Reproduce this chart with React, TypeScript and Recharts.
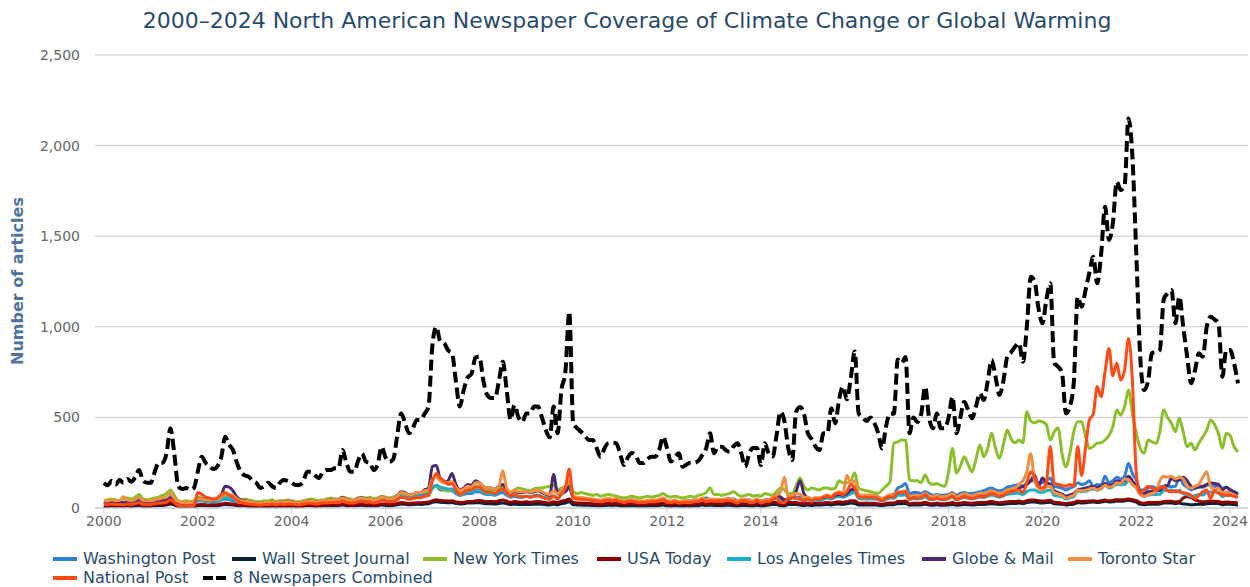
import React from "react";
import { LineChart, Line, XAxis, YAxis, CartesianGrid } from "recharts";

// Monthly values, Jan 2000 – Mar 2024 (291 months)
const START_YEAR = 2000;

const combined = [
  138,125,150,130,155,140,160,145,170,210,150,140,
  140,200,250,250,300,440,300,120,105,110,100,110,
  200,283,250,230,215,230,280,393,350,320,250,200,
  180,173,150,138,110,120,140,120,110,140,155,150,
  140,127,127,150,200,200,180,165,200,210,210,220,
  220,320,250,200,200,260,300,256,250,210,240,338,
  280,255,270,400,522,470,412,440,486,486,520,559,
  900,1000,920,910,870,855,700,560,650,720,740,830,
  835,706,624,607,607,700,807,650,486,568,500,476,
  522,522,560,560,500,430,390,560,413,651,750,1083,
  468,440,421,400,375,375,330,283,330,358,360,358,
  300,237,280,303,290,248,248,270,283,283,320,393,
  330,256,280,302,228,240,250,250,260,292,330,412,
  302,338,338,320,310,340,357,302,228,300,331,331,
  237,357,300,284,400,531,480,330,265,530,557,522,
  413,380,338,320,412,412,551,467,600,670,600,720,
  863,522,500,480,500,470,413,329,450,522,520,820,
  800,833,413,500,475,520,670,500,440,522,440,440,
  500,614,413,500,587,540,495,560,633,596,700,817,
  725,624,700,835,860,890,910,807,1000,1276,1250,1100,
  1019,1150,1240,800,780,745,522,560,690,1165,1111,1200,
  1300,1386,1240,1400,1663,1479,1571,1800,1755,1780,2150,1939,
  1400,835,651,700,855,860,872,1150,1185,1203,1019,1166,
  1000,835,688,760,854,835,1000,1055,1040,1020,725,872,
  872,798,688,
];

const nyt = [
  40,45,50,45,40,50,55,50,60,75,50,45,
  50,55,60,70,80,100,70,40,35,40,35,40,
  60,55,50,50,45,50,55,70,60,55,50,45,
  50,45,40,35,35,40,40,45,35,40,40,45,
  40,35,35,40,45,50,45,40,45,50,55,50,
  50,60,55,50,45,55,60,55,60,50,55,65,
  60,55,60,70,80,75,70,75,80,85,90,95,
  110,120,110,100,95,100,90,80,90,100,110,120,
  120,110,100,95,100,110,115,100,90,100,110,105,
  100,95,105,110,110,115,120,125,100,110,120,130,
  90,80,85,80,75,70,75,65,70,75,70,65,
  60,55,60,65,60,55,60,65,60,65,70,80,
  65,60,65,60,55,60,65,60,70,75,85,110,
  75,75,70,75,80,90,75,65,70,75,65,70,
  65,80,75,70,90,110,100,80,80,120,165,120,
  100,110,105,100,110,110,105,110,150,140,140,150,
  193,110,100,95,90,85,80,100,120,145,358,365,
  375,375,155,150,150,140,182,140,130,135,125,120,
  200,329,193,230,283,240,200,270,348,283,330,412,
  330,274,350,430,380,360,375,360,531,480,470,480,
  476,460,375,420,441,300,228,302,420,476,476,400,
  329,340,358,360,375,400,449,541,513,560,651,520,
  412,330,302,375,365,357,420,541,500,467,421,495,
  420,338,358,320,358,393,430,486,460,412,329,412,
  400,338,310,
];

const wapo = [
  35,30,35,40,35,30,35,40,35,45,35,30,
  35,40,45,40,45,60,50,30,30,35,30,35,
  40,45,40,35,35,40,45,50,45,40,35,35,
  35,30,30,30,25,30,30,35,30,35,30,35,
  35,30,30,35,40,40,35,35,40,40,45,45,
  45,55,45,40,40,50,50,45,45,40,45,55,
  50,45,50,60,75,70,60,65,70,70,75,80,
  110,120,100,100,95,95,80,70,75,80,80,90,
  90,80,75,75,70,80,85,70,60,65,60,60,
  65,60,65,70,60,55,55,65,55,75,90,110,
  60,55,55,50,50,45,45,40,45,50,45,50,
  40,35,40,45,40,35,35,40,40,40,45,50,
  40,35,40,35,35,40,40,45,40,50,55,45,
  45,45,45,50,50,50,40,35,45,45,40,40,
  40,45,45,55,65,60,45,40,60,60,60,55,
  50,45,50,50,55,60,55,65,70,70,75,90,
  100,65,60,60,60,60,55,50,60,70,75,110,
  120,135,80,85,85,80,90,80,70,75,70,70,
  75,85,70,80,85,80,80,85,90,95,105,110,
  100,95,100,115,120,125,130,120,140,150,150,140,
  140,150,165,120,115,110,100,110,118,140,130,135,
  150,118,130,125,175,140,150,170,160,175,247,190,
  155,100,100,110,118,110,115,120,120,118,120,173,
  130,115,100,110,120,115,125,130,120,125,110,115,
  100,90,81,
];

const wsj = [
  10,9,12,10,11,10,12,10,12,14,10,10,
  10,13,14,14,16,22,16,9,8,8,8,8,
  13,14,13,12,13,13,16,19,18,17,14,12,
  12,10,9,8,8,9,8,10,8,10,9,10,
  10,9,8,10,12,12,10,11,12,12,13,13,
  13,16,13,12,12,14,15,13,13,12,13,16,
  14,13,14,18,22,20,18,19,21,20,22,23,
  32,35,32,30,29,30,25,22,24,27,27,29,
  29,25,23,23,22,25,28,23,19,21,19,19,
  20,19,21,21,20,18,17,21,17,24,28,35,
  18,17,16,15,15,14,13,12,14,15,14,15,
  13,11,13,13,12,11,11,12,13,13,14,16,
  13,11,13,11,11,12,11,13,13,16,14,15,
  14,14,13,15,15,13,11,14,14,12,11,15,
  11,13,16,19,19,12,11,19,19,19,16,14,
  16,14,16,16,18,19,17,21,22,20,23,27,
  25,17,17,17,17,17,15,13,16,18,18,24,
  24,25,15,17,17,17,21,16,15,18,15,15,
  17,19,15,17,19,18,17,18,20,19,22,24,
  22,19,21,24,25,25,27,24,30,33,33,29,
  28,30,32,23,22,20,17,19,21,29,28,29,
  32,33,30,33,37,33,35,38,37,38,43,39,
  32,20,18,20,21,21,22,27,28,28,24,27,
  22,21,18,19,21,20,24,25,25,25,18,21,
  21,19,17,
];

const usaToday = [
  15,12,15,14,15,13,16,14,16,20,14,14,
  14,18,20,20,22,30,22,12,10,11,10,11,
  18,20,18,17,18,18,22,26,24,22,18,15,
  15,13,12,10,10,12,11,12,10,12,12,12,
  12,11,10,12,15,15,13,14,16,16,17,18,
  18,22,18,16,16,20,21,18,19,16,18,22,
  20,19,20,25,30,28,25,27,29,29,31,33,
  40,45,42,40,38,40,34,30,32,36,36,40,
  42,38,35,36,35,40,44,38,32,36,33,32,
  34,32,35,36,33,30,28,35,30,38,42,50,
  30,28,27,26,25,24,22,20,24,25,24,25,
  22,20,22,23,21,20,20,21,22,22,24,26,
  22,20,22,19,20,21,20,22,23,27,23,25,
  24,24,23,25,26,23,19,24,24,21,20,25,
  20,22,25,30,30,20,20,30,30,30,26,24,
  26,24,26,26,28,30,27,32,34,32,35,40,
  40,27,26,27,26,26,24,20,25,28,28,36,
  36,38,24,26,26,26,32,25,24,27,24,24,
  26,30,24,27,30,28,26,29,31,30,33,36,
  32,29,31,35,36,36,38,34,40,44,44,40,
  38,40,42,32,30,28,24,27,30,38,36,37,
  38,40,37,40,44,40,42,46,45,46,50,46,
  40,30,26,30,30,30,31,36,37,37,33,36,
  55,62,58,45,38,34,36,38,37,36,30,33,
  32,30,28,
];

const laTimes = [
  30,28,32,30,32,28,33,30,34,40,30,30,
  30,38,45,44,50,70,50,25,22,24,22,24,
  40,38,36,35,36,36,45,55,50,48,36,30,
  32,28,25,22,20,24,23,26,22,27,25,26,
  26,24,22,26,32,31,28,30,34,33,35,36,
  38,45,36,32,33,40,42,37,38,32,36,46,
  40,37,38,50,65,60,52,55,62,60,66,70,
  110,125,115,110,105,105,85,70,78,88,88,100,
  100,86,77,76,74,88,98,78,62,70,62,60,
  65,62,68,70,63,55,50,68,53,78,95,120,
  58,54,52,50,47,45,41,37,45,46,43,46,
  38,32,39,40,36,33,34,36,38,39,42,48,
  35,33,38,30,32,33,32,37,38,50,38,42,
  40,42,40,43,44,38,30,40,40,33,31,42,
  30,36,38,48,55,40,33,52,55,55,48,42,
  44,40,42,42,50,55,50,60,65,60,68,80,
  85,52,50,50,50,50,45,38,48,55,54,70,
  70,72,45,52,50,52,62,48,46,52,46,46,
  52,60,45,52,58,54,50,55,60,58,65,72,
  66,60,66,76,78,80,82,74,90,100,100,88,
  86,95,100,70,66,62,50,56,62,95,90,92,
  100,105,98,106,125,110,118,130,128,130,150,135,
  115,75,62,72,74,75,76,95,98,100,88,98,
  78,74,62,68,74,72,85,88,87,86,62,70,
  70,65,60,
];

const globeMail = [
  30,28,32,30,30,28,32,30,34,40,30,30,
  30,35,40,40,45,55,45,25,22,24,22,24,
  50,48,45,44,45,45,70,120,115,95,60,45,
  40,35,30,28,26,30,30,32,28,34,32,34,
  34,30,28,32,40,38,35,36,42,40,44,45,
  46,60,46,42,42,52,56,48,50,42,48,60,
  52,48,50,65,90,85,70,75,85,85,100,110,
  230,235,160,140,150,190,130,100,110,130,125,150,
  140,120,110,110,105,120,130,100,80,95,85,85,
  90,85,90,95,85,75,70,185,80,100,90,120,
  60,55,52,50,48,46,42,38,46,47,44,47,
  40,35,40,42,38,35,35,38,40,40,44,50,
  38,35,40,33,35,36,35,40,41,52,42,45,
  43,45,43,46,47,42,35,44,44,38,36,45,
  35,40,42,55,70,60,45,50,60,90,150,80,
  55,48,52,50,58,65,58,70,75,70,80,100,
  105,70,65,65,70,68,60,50,60,70,70,85,
  85,90,60,68,65,66,78,62,60,66,60,60,
  65,72,58,64,70,66,62,68,74,72,80,88,
  82,75,80,92,95,98,110,118,130,150,182,120,
  165,140,130,95,85,78,65,72,80,100,105,110,
  115,120,112,120,135,125,130,150,145,150,175,150,
  120,90,80,90,92,95,96,120,125,165,150,155,
  170,150,120,110,115,120,130,140,135,130,100,115,
  100,90,75,
];

const torontoStar = [
  40,38,45,40,42,62,45,40,48,60,40,40,
  40,45,50,55,60,80,55,35,30,30,30,32,
  50,48,45,42,45,45,60,80,75,70,50,40,
  38,34,30,28,26,30,30,32,28,34,32,34,
  34,30,28,32,40,38,35,36,42,40,44,45,
  46,55,46,42,42,50,55,48,50,42,48,60,
  55,50,52,65,85,80,70,75,85,85,95,100,
  160,170,150,140,140,145,115,95,105,120,115,140,
  140,120,110,110,105,120,205,110,85,100,90,90,
  92,88,95,98,90,80,75,95,78,100,120,150,
  65,60,58,55,52,50,46,42,50,52,48,52,
  44,38,44,46,42,38,38,42,44,44,48,55,
  40,38,44,36,38,40,38,44,45,55,45,50,
  48,48,46,50,52,46,38,48,48,42,40,50,
  38,44,45,60,70,90,170,60,70,80,75,60,
  60,50,58,56,64,72,64,80,90,85,180,140,
  150,75,70,72,70,70,62,52,62,72,72,90,
  90,95,62,70,68,68,82,65,62,70,62,62,
  68,80,60,70,78,72,68,75,82,80,88,95,
  88,80,85,100,105,110,130,150,200,300,150,110,
  100,115,120,85,78,70,55,62,70,100,95,98,
  105,110,100,110,125,115,120,140,135,160,155,130,
  110,75,65,72,80,90,150,175,170,175,160,170,
  160,120,110,120,130,170,200,120,100,110,80,90,
  80,70,65,
];

const nationalPost = [
  20,18,22,20,20,18,22,20,24,30,20,20,
  20,24,28,28,32,45,30,15,12,14,12,14,
  85,75,60,55,50,55,75,85,70,60,40,30,
  25,22,20,18,16,20,20,22,18,22,20,22,
  22,20,18,22,26,26,22,24,28,27,30,30,
  30,38,30,27,28,34,36,32,33,28,32,40,
  36,34,35,45,60,56,48,52,58,56,65,68,
  150,190,165,150,130,135,100,75,85,100,100,115,
  115,95,85,85,82,95,105,85,65,75,65,62,
  65,60,66,68,60,52,48,66,50,80,110,215,
  55,50,48,46,44,42,38,34,42,43,40,43,
  35,30,36,37,33,30,31,33,35,35,39,45,
  32,30,35,28,30,31,30,35,36,45,35,40,
  38,40,38,42,43,36,28,40,40,32,30,42,
  28,35,36,48,55,32,30,55,55,55,48,40,
  50,40,50,48,58,66,56,78,82,74,90,130,
  110,60,58,60,58,58,50,40,55,62,60,85,
  85,88,48,58,55,56,75,52,48,56,48,48,
  55,65,45,55,62,58,52,58,65,62,70,80,
  72,65,70,85,90,95,100,85,140,200,170,120,
  110,140,340,136,130,125,120,130,120,340,180,330,
  486,520,670,614,750,880,730,800,706,760,936,700,
  190,81,100,118,110,100,110,118,95,90,95,88,
  85,80,70,53,70,90,100,53,95,80,75,70,
  70,65,60,
];

const xTicks = [2000, 2002, 2004, 2006, 2008, 2010, 2012, 2014, 2016, 2018, 2020, 2022, 2024];
const yTicks = [0, 500, 1000, 1500, 2000, 2500];

const series = [
  { key: "wapo", name: "Washington Post", color: "#2f7ed8", values: wapo },
  { key: "wsj", name: "Wall Street Journal", color: "#0d233a", values: wsj },
  { key: "nyt", name: "New York Times", color: "#8bbf2b", values: nyt },
  { key: "usa", name: "USA Today", color: "#910000", values: usaToday },
  { key: "lat", name: "Los Angeles Times", color: "#1aadce", values: laTimes },
  { key: "gm", name: "Globe & Mail", color: "#492970", values: globeMail },
  { key: "ts", name: "Toronto Star", color: "#f28f43", values: torontoStar },
  { key: "np", name: "National Post", color: "#ff4a14", values: nationalPost },
];

const data = combined.map((v, i) => {
  const row: Record<string, number> = { x: START_YEAR + i / 12, combined: v };
  series.forEach((s) => {
    row[s.key] = s.values[i];
  });
  return row;
});

const FONT = "'Lucida Grande', 'DejaVu Sans', sans-serif";

const legendRow1 = [
  { name: "Washington Post", color: "#2f7ed8", sx: 53, tx: 83 },
  { name: "Wall Street Journal", color: "#0d233a", sx: 232, tx: 262 },
  { name: "New York Times", color: "#8bbf2b", sx: 423, tx: 453 },
  { name: "USA Today", color: "#910000", sx: 597, tx: 627 },
  { name: "Los Angeles Times", color: "#1aadce", sx: 727, tx: 757 },
  { name: "Globe & Mail", color: "#492970", sx: 922, tx: 952 },
  { name: "Toronto Star", color: "#f28f43", sx: 1068, tx: 1098 },
];

export default function App() {
  return (
    <div style={{ position: "absolute", left: 0, top: 0, width: 1250, height: 587, background: "#fff", fontFamily: FONT }}>
      <div
        style={{
          position: "absolute",
          left: 0,
          top: 8,
          width: 1254,
          textAlign: "center",
          fontSize: 22,
          color: "#274b6d",
          whiteSpace: "nowrap",
        }}
      >
        2000–2024 North American Newspaper Coverage of Climate Change or Global Warming
      </div>
      <div
        style={{
          position: "absolute",
          left: 17,
          top: 281,
          transform: "translate(-50%, -50%) rotate(-90deg)",
          fontSize: 16,
          fontWeight: "bold",
          color: "#4d759e",
          whiteSpace: "nowrap",
        }}
      >
        Number of articles
      </div>
      <LineChart width={1250} height={587} data={data} margin={{ top: 55, right: 2, left: 0, bottom: 49 }}>
        <CartesianGrid horizontal={true} vertical={false} stroke="#c8c8c8" />
        <XAxis
          dataKey="x"
          type="number"
          domain={[1999.81, 2024.38]}
          ticks={xTicks}
          allowDataOverflow
          height={30}
          tickFormatter={(v: number) => String(v)}
          axisLine={{ stroke: "#c0d0e0" }}
          tickLine={{ stroke: "#c0d0e0" }}
          tickSize={5}
          tickMargin={3}
          tick={{ fill: "#666", fontSize: 14, fontFamily: FONT }}
        />
        <YAxis
          domain={[0, 2500]}
          ticks={yTicks}
          width={95}
          axisLine={false}
          tickLine={false}
          tickSize={8}
          tickMargin={7}
          tickFormatter={(v: number) => v.toLocaleString("en-US")}
          tick={{ fill: "#666", fontSize: 14, fontFamily: FONT }}
        />
        {series.map((s) => (
          <Line
            key={s.key}
            type="monotone"
            dataKey={s.key}
            stroke={s.color}
            strokeWidth={3}
            dot={false}
            activeDot={false}
            isAnimationActive={false}
          />
        ))}
        <Line
          type="monotone"
          dataKey="combined"
          stroke="#000"
          strokeWidth={4}
          strokeDasharray="11 5"
          dot={false}
          activeDot={false}
          isAnimationActive={false}
        />
      </LineChart>
      {legendRow1.map((l) => (
        <React.Fragment key={l.name}>
          <div style={{ position: "absolute", left: l.sx, top: 557, width: 24, height: 4, background: l.color }} />
          <div style={{ position: "absolute", left: l.tx, top: 549, fontSize: 16, color: "#274b6d", whiteSpace: "nowrap" }}>{l.name}</div>
        </React.Fragment>
      ))}
      <div style={{ position: "absolute", left: 53, top: 576, width: 24, height: 4, background: "#ff4a14" }} />
      <div style={{ position: "absolute", left: 83, top: 568, fontSize: 16, color: "#274b6d", whiteSpace: "nowrap" }}>National Post</div>
      <div style={{ position: "absolute", left: 203, top: 576, width: 10, height: 4, background: "#000" }} />
      <div style={{ position: "absolute", left: 216, top: 576, width: 10, height: 4, background: "#000" }} />
      <div style={{ position: "absolute", left: 233, top: 568, fontSize: 16, color: "#274b6d", whiteSpace: "nowrap" }}>8 Newspapers Combined</div>
    </div>
  );
}
